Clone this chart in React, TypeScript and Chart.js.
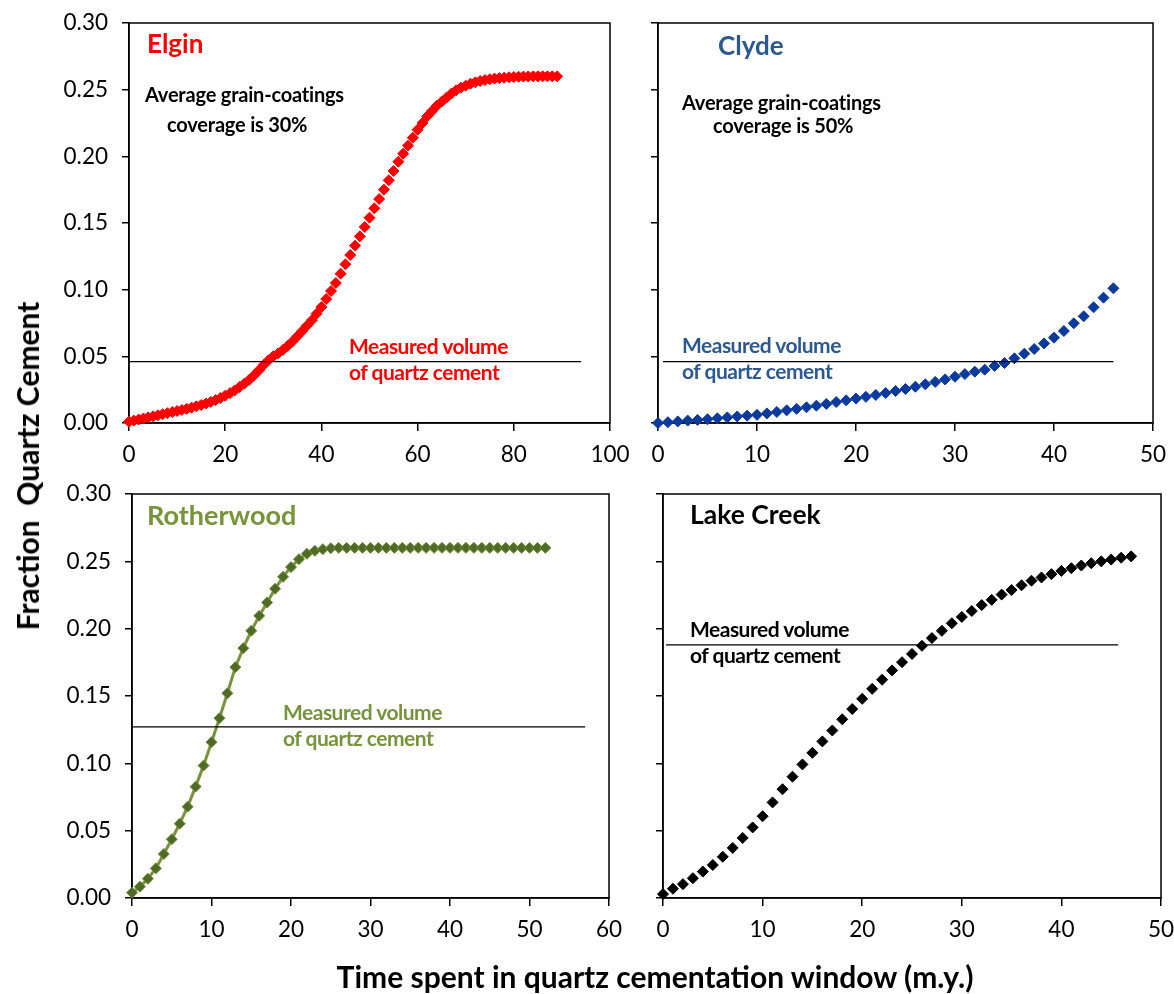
import React, { useEffect, useRef } from 'react';
import { Chart, registerables } from 'chart.js';

Chart.register(...registerables);

const PAGE_W = 1174;
const PAGE_H = 994;
const FONT = 'Lato, "Open Sans", "DejaVu Sans", sans-serif';

// ---------- data ----------
const yTickValues = [0, 0.05, 0.1, 0.15, 0.2, 0.25, 0.3];
const elginXTicks = [0, 20, 40, 60, 80, 100];
const clydeXTicks = [0, 10, 20, 30, 40, 50];
const rotherwoodXTicks = [0, 10, 20, 30, 40, 50, 60];
const lakeCreekXTicks = [0, 10, 20, 30, 40, 50];

// time step of every series: 1 m.y., starting at 0
const elginValues = [
  0.001, 0.0018, 0.0026, 0.0034, 0.0042, 0.005, 0.0058, 0.0066, 0.0074, 0.0082,
  0.009, 0.0098, 0.0106, 0.0115, 0.0125, 0.0135, 0.0146, 0.0158, 0.0172, 0.0188,
  0.0205, 0.0224, 0.0245, 0.027, 0.0296, 0.0324, 0.0358, 0.0395, 0.0435, 0.047,
  0.05, 0.0522, 0.0548, 0.0578, 0.0612, 0.065, 0.069, 0.073, 0.077, 0.082,
  0.087, 0.093, 0.099, 0.105, 0.112, 0.119, 0.126, 0.133, 0.14, 0.147,
  0.154, 0.161, 0.168, 0.175, 0.182, 0.189, 0.196, 0.202, 0.208, 0.214,
  0.22, 0.225, 0.23, 0.234, 0.238, 0.241, 0.244, 0.247, 0.2495, 0.2515,
  0.253, 0.2545, 0.2555, 0.2565, 0.2572, 0.2578, 0.2583, 0.2587, 0.259, 0.2593,
  0.2595, 0.2597, 0.2598, 0.2599, 0.26, 0.26, 0.26, 0.26, 0.26, 0.26,
];
const clydeValues = [
  0.0, 0.0006, 0.0012, 0.0018, 0.0023, 0.0028, 0.0035, 0.0042, 0.0049, 0.0055,
  0.0061, 0.0072, 0.0083, 0.0095, 0.0106, 0.0118, 0.013, 0.0143, 0.0157, 0.017,
  0.0183, 0.0196, 0.021, 0.0225, 0.024, 0.0255, 0.0272, 0.029, 0.0308, 0.0327,
  0.0347, 0.0367, 0.0385, 0.04, 0.0428, 0.045, 0.0485, 0.052, 0.0555, 0.0597,
  0.064, 0.069, 0.0748, 0.08, 0.0868, 0.094, 0.101,
];
const rotherwoodValues = [
  0.0039, 0.0084, 0.0143, 0.022, 0.0327, 0.0436, 0.0552, 0.0678, 0.0827, 0.0983,
  0.1157, 0.1335, 0.152, 0.1714, 0.1855, 0.1984, 0.2095, 0.2194, 0.2296, 0.2385,
  0.2457, 0.2516, 0.2556, 0.2578, 0.259, 0.2597, 0.26, 0.26, 0.26, 0.26,
  0.26, 0.26, 0.26, 0.26, 0.26, 0.26, 0.26, 0.26, 0.26, 0.26,
  0.26, 0.26, 0.26, 0.26, 0.26, 0.26, 0.26, 0.26, 0.26, 0.26,
  0.26, 0.26, 0.26,
];
const lakeCreekValues = [
  0.0029, 0.0069, 0.0103, 0.0147, 0.0196, 0.0245, 0.0306, 0.0372, 0.0446, 0.0524,
  0.0607, 0.071, 0.0808, 0.0901, 0.0992, 0.1078, 0.1163, 0.1244, 0.1327, 0.1403,
  0.1479, 0.1553, 0.1621, 0.169, 0.1751, 0.1812, 0.1873, 0.193, 0.1984, 0.204,
  0.2087, 0.2131, 0.2175, 0.2214, 0.2253, 0.2287, 0.2322, 0.2356, 0.238, 0.2405,
  0.2429, 0.2449, 0.2469, 0.2486, 0.25, 0.2513, 0.2527, 0.2537,
];

// measured volume of quartz cement (horizontal reference lines)
const measuredLevels = [0.046, 0.046, 0.127, 0.188];
const measuredStarts = [0, 0.5, 0, 0.3];
const measuredEnds = [94, 46, 57, 45.7];

// ---------- layout (plot areas in page pixels) ----------
const Y_AXIS_W = 70;
const X_AXIS_H = 50;
const TICK_FONT = 22.5;

type Panel = {
  values: number[];
  xTicks: number[];
  xMax: number;
  area: { left: number; top: number; right: number; bottom: number };
  yLabels: boolean;
  pointColor: string;
  pointBorder: string;
  line: string | null;
  radius: number;
  measured: number;
};

const panels: Panel[] = [
  {
    values: elginValues, xTicks: elginXTicks, xMax: 100,
    area: { left: 129, top: 23, right: 610, bottom: 423 },
    yLabels: true, pointColor: '#ff0000', pointBorder: '#ff0000', line: null, radius: 5.5, measured: 0,
  },
  {
    values: clydeValues, xTicks: clydeXTicks, xMax: 50,
    area: { left: 658, top: 23, right: 1153, bottom: 423 },
    yLabels: false, pointColor: '#0b3a9c', pointBorder: '#0b3a9c', line: null, radius: 5.5, measured: 1,
  },
  {
    values: rotherwoodValues, xTicks: rotherwoodXTicks, xMax: 60,
    area: { left: 132, top: 494, right: 609, bottom: 898 },
    yLabels: true, pointColor: '#4f6a26', pointBorder: '#6f8f38', line: '#77933c', radius: 5.5, measured: 2,
  },
  {
    values: lakeCreekValues, xTicks: lakeCreekXTicks, xMax: 50,
    area: { left: 663, top: 494, right: 1161, bottom: 898 },
    yLabels: false, pointColor: '#000000', pointBorder: '#000000', line: null, radius: 5.5, measured: 3,
  },
];

const framePlugin = {
  id: 'frame',
  beforeDatasetsDraw(chart: any) {
    const { ctx, chartArea: a } = chart;
    ctx.save();
    ctx.strokeStyle = '#000';
    ctx.lineWidth = 1.5;
    ctx.strokeRect(a.left, a.top, a.right - a.left, a.bottom - a.top);
    ctx.restore();
  },
};

function PanelChart({ p }: { p: Panel }) {
  const ref = useRef<HTMLCanvasElement | null>(null);
  useEffect(() => {
    if (!ref.current) return;
    const i = p.measured;
    const chart = new Chart(ref.current, {
      type: 'scatter',
      data: {
        datasets: [
          {
            data: [
              { x: measuredStarts[i], y: measuredLevels[i] },
              { x: measuredEnds[i], y: measuredLevels[i] },
            ],
            showLine: true,
            borderColor: '#000',
            borderWidth: 1.2,
            pointRadius: 0,
            clip: false as any,
          },
          {
            data: p.values.map((v, t) => ({ x: t, y: v })),
            showLine: !!p.line,
            borderColor: p.line || p.pointColor,
            borderWidth: p.line ? 3 : 0,
            tension: 0,
            pointStyle: 'rectRot',
            pointRadius: p.radius,
            pointBackgroundColor: p.pointColor,
            pointBorderColor: p.pointBorder,
            pointBorderWidth: 1,
            clip: false as any,
          },
        ],
      },
      options: {
        responsive: false,
        animation: false,
        devicePixelRatio: 1,
        events: [],
        layout: {
          padding: {
            left: p.area.left - Y_AXIS_W,
            top: p.area.top,
            right: PAGE_W - p.area.right,
            bottom: PAGE_H - p.area.bottom - X_AXIS_H,
          },
        },
        plugins: { legend: { display: false }, tooltip: { enabled: false } },
        scales: {
          x: {
            type: 'linear',
            min: 0,
            max: p.xMax,
            afterBuildTicks: (s: any) => {
              s.ticks = p.xTicks.map((v) => ({ value: v }));
            },
            afterFit: (s: any) => {
              s.height = X_AXIS_H;
              s.paddingLeft = 0;
              s.paddingRight = 0;
            },
            ticks: {
              color: '#000',
              font: { family: FONT, size: TICK_FONT },
              padding: 10,
              maxRotation: 0,
              autoSkip: false,
              callback: (v: any) => String(v),
            },
            grid: { drawOnChartArea: false, drawTicks: true, tickLength: 8, color: '#000', lineWidth: 1.5 },
            border: { display: true, color: '#000', width: 1.5 },
          },
          y: {
            type: 'linear',
            min: 0,
            max: 0.3,
            afterBuildTicks: (s: any) => {
              s.ticks = yTickValues.map((v) => ({ value: v }));
            },
            afterFit: (s: any) => {
              s.width = Y_AXIS_W;
              s.paddingTop = 0;
              s.paddingBottom = 0;
            },
            ticks: {
              color: '#000',
              font: { family: FONT, size: TICK_FONT },
              padding: 14,
              autoSkip: false,
              callback: (v: any) => (p.yLabels ? Number(v).toFixed(2) : ''),
            },
            grid: { drawOnChartArea: false, drawTicks: true, tickLength: 7, color: '#000', lineWidth: 1.5 },
            border: { display: true, color: '#000', width: 1.5 },
          },
        },
      },
      plugins: [framePlugin],
    } as any);
    return () => chart.destroy();
  }, [p]);
  return (
    <canvas
      ref={ref}
      width={PAGE_W}
      height={PAGE_H}
      style={{ position: 'absolute', left: 0, top: 0, width: PAGE_W, height: PAGE_H, pointerEvents: 'none' }}
    />
  );
}

type Txt = { text: string; x: number; baseline: number; size: number; color: string; spacing?: number };

const ELGIN_RED = '#ff0000';
const CLYDE_BLUE = '#2c5890';
const ROTH_GREEN = '#77933c';

const texts: Txt[] = [
  { text: 'Elgin', x: 147, baseline: 53, size: 26, color: ELGIN_RED },
  { text: 'Average grain-coatings', x: 145, baseline: 102, size: 20, color: '#000', spacing: -0.2 },
  { text: 'coverage is 30%', x: 167, baseline: 132, size: 20, color: '#000', spacing: -0.2 },
  { text: 'Measured volume', x: 349, baseline: 354, size: 21, color: ELGIN_RED, spacing: -0.5 },
  { text: 'of quartz cement', x: 349, baseline: 380, size: 21, color: ELGIN_RED, spacing: -0.5 },

  { text: 'Clyde', x: 718, baseline: 55, size: 26, color: CLYDE_BLUE },
  { text: 'Average grain-coatings', x: 682, baseline: 110, size: 20, color: '#000', spacing: -0.2 },
  { text: 'coverage is 50%', x: 713, baseline: 133, size: 20, color: '#000', spacing: -0.2 },
  { text: 'Measured volume', x: 682, baseline: 353, size: 21, color: CLYDE_BLUE, spacing: -0.5 },
  { text: 'of quartz cement', x: 682, baseline: 379, size: 21, color: CLYDE_BLUE, spacing: -0.5 },

  { text: 'Rotherwood', x: 147, baseline: 525, size: 27, color: ROTH_GREEN },
  { text: 'Measured volume', x: 283, baseline: 720, size: 21, color: ROTH_GREEN, spacing: -0.5 },
  { text: 'of quartz cement', x: 283, baseline: 746, size: 21, color: ROTH_GREEN, spacing: -0.5 },

  { text: 'Lake Creek', x: 690, baseline: 525, size: 26.5, color: '#000' },
  { text: 'Measured volume', x: 690, baseline: 637, size: 21, color: '#000', spacing: -0.5 },
  { text: 'of quartz cement', x: 690, baseline: 663, size: 21, color: '#000', spacing: -0.5 },
];

function Label({ t }: { t: Txt }) {
  return (
    <div
      style={{
        position: 'absolute',
        left: t.x,
        top: t.baseline - t.size * 0.887,
        fontFamily: FONT,
        fontSize: t.size,
        lineHeight: `${t.size}px`,
        fontWeight: 700,
        color: t.color,
        whiteSpace: 'pre',
        letterSpacing: t.spacing || 0,
      }}
    >
      {t.text}
    </div>
  );
}

export default function App() {
  return (
    <div style={{ position: 'absolute', left: 0, top: 0, width: PAGE_W, height: PAGE_H, background: '#fff', overflow: 'hidden' }}>
      {panels.map((p, i) => (
        <PanelChart key={i} p={p} />
      ))}
      {texts.map((t, i) => (
        <Label key={i} t={t} />
      ))}
      <div
        style={{
          position: 'absolute',
          left: 27,
          top: 466,
          transform: 'translate(-50%, -50%) rotate(-90deg)',
          fontFamily: FONT,
          fontSize: 30,
          lineHeight: '30px',
          fontWeight: 700,
          color: '#000',
          whiteSpace: 'pre',
        }}
      >
        {'Fraction  Quartz Cement'}
      </div>
      <div
        style={{
          position: 'absolute',
          left: 655,
          top: 988 - 30 * 0.887,
          transform: 'translateX(-50%)',
          fontFamily: FONT,
          fontSize: 30,
          lineHeight: '30px',
          fontWeight: 700,
          color: '#000',
          whiteSpace: 'pre',
        }}
      >
        {'Time spent in quartz cementation window (m.y.)'}
      </div>
    </div>
  );
}
